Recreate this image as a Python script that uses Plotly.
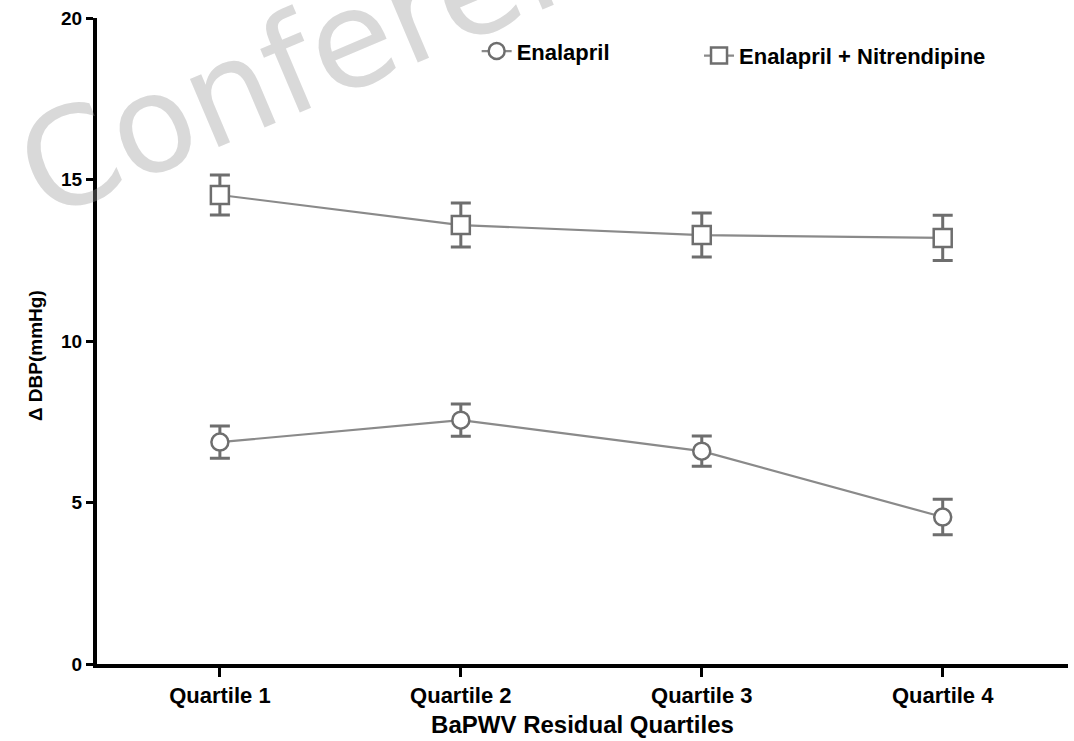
import plotly.graph_objects as go

# Change in diastolic blood pressure by BaPWV residual quartile
quartiles = ["Quartile 1", "Quartile 2", "Quartile 3", "Quartile 4"]
x_pos = [1, 2, 3, 4]

enalapril_mean = [6.87, 7.55, 6.59, 4.55]
enalapril_err = [0.50, 0.50, 0.47, 0.55]

combo_mean = [14.52, 13.59, 13.28, 13.19]
combo_err = [0.62, 0.68, 0.68, 0.70]

FONT = "Arial, Liberation Sans, Helvetica, sans-serif"
LINE_GREY = "#8a8a8a"
MARK_GREY = "#6e6e6e"

fig = go.Figure()

fig.add_trace(go.Scatter(
    x=x_pos, y=enalapril_mean, name="Enalapril",
    mode="lines+markers", legend="legend",
    line=dict(color=LINE_GREY, width=2.2),
    marker=dict(symbol="circle", size=17, color="white",
                line=dict(color=MARK_GREY, width=2.5)),
    error_y=dict(type="data", array=enalapril_err, visible=True,
                 color=MARK_GREY, thickness=3, width=10),
))

fig.add_trace(go.Scatter(
    x=x_pos, y=combo_mean, name="Enalapril + Nitrendipine",
    mode="lines+markers", legend="legend2",
    line=dict(color=LINE_GREY, width=2.2),
    marker=dict(symbol="square", size=18, color="white",
                line=dict(color=MARK_GREY, width=2.5)),
    error_y=dict(type="data", array=combo_err, visible=True,
                 color=MARK_GREY, thickness=3, width=10),
))

# Light diagonal watermark
fig.add_annotation(
    text="Conference", xref="paper", yref="paper",
    x=-0.107, y=0.985, xanchor="left", yanchor="middle",
    textangle=-23, showarrow=False,
    font=dict(family="DejaVu Sans, sans-serif", size=135,
              color="rgba(150,150,150,0.36)"),
)

# Y-axis title, placed a little below the axis midpoint
fig.add_annotation(
    text="Δ DBP(mmHg)", xref="paper", yref="paper",
    x=-0.064, y=0.478, xanchor="center", yanchor="middle",
    textangle=-90, showarrow=False,
    font=dict(family=FONT, size=19, weight="bold", color="black"),
)

legend_font = dict(family=FONT, size=22, weight="bold", color="black")

fig.update_layout(
    width=1074, height=741,
    margin=dict(l=97, r=6, t=18, b=77),
    paper_bgcolor="white", plot_bgcolor="white",
    font=dict(family=FONT, color="black"),
    showlegend=True,
    legend=dict(
        x=0.391, y=0.981, xanchor="left", yanchor="top",
        font=legend_font, bgcolor="rgba(0,0,0,0)",
    ),
    legend2=dict(
        x=0.620, y=0.974, xanchor="left", yanchor="top",
        font=legend_font, bgcolor="rgba(0,0,0,0)",
    ),
    xaxis=dict(
        range=[0.49, 4.52], tickmode="array", tickvals=x_pos, ticktext=quartiles,
        showline=True, linecolor="black", linewidth=4,
        ticks="outside", ticklen=9, tickwidth=3, tickcolor="black",
        showgrid=False, zeroline=False,
        tickfont=dict(family=FONT, size=22, weight="bold"),
        title=dict(text="BaPWV Residual Quartiles", standoff=10,
                   font=dict(family=FONT, size=24, weight="bold")),
    ),
    yaxis=dict(
        range=[0, 20], tickvals=[0, 5, 10, 15, 20],
        showline=True, linecolor="black", linewidth=4,
        ticks="outside", ticklen=7, tickwidth=3, tickcolor="black",
        showgrid=False, zeroline=False,
        tickfont=dict(family=FONT, size=19, weight="bold"),
    ),
)

fig.write_html("out.html")
